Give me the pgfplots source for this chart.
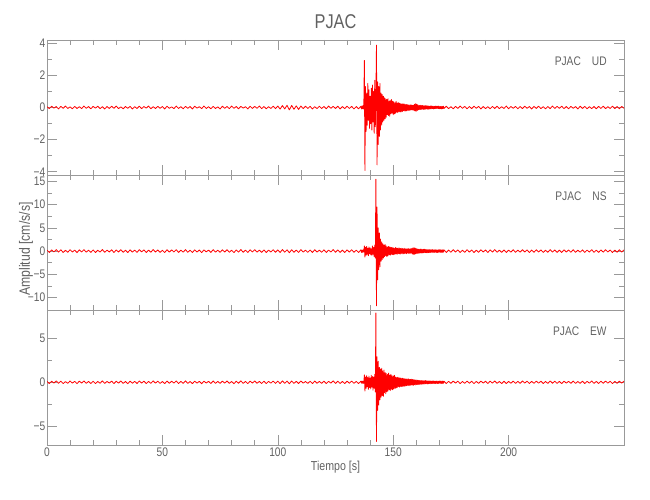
\documentclass[border=0pt]{standalone}
\usepackage{fontspec}
\setmainfont{Liberation Sans}[FakeStretch=0.82]
\usepackage{pgfplots}
\pgfplotsset{compat=1.18}

\definecolor{axgray}{gray}{0.6}
\definecolor{txgray}{gray}{0.38}

\pgfplotsset{
  seis/.style={
    scale only axis, width=577bp, height=135bp,
    xmin=0, xmax=250,
    xtick={0,50,100,150,200}, minor x tick num=4,
    minor y tick num=1,
    tick align=inside,
    major tick length=10bp, minor tick length=5bp,
    axis line style={axgray, line width=0.6pt},
    every tick/.style={axgray, line width=0.6pt},
    tick label style={txgray, font=\fontsize{12.5}{14}\selectfont},
    yticklabel style={inner sep=1.5bp},
    xticklabel style={inner sep=3bp},
  },
  trace/.style={red, line width=0.8pt, line join=round},
}

\begin{document}
\begin{tikzpicture}
\path[use as bounding box] (-47bp,-55bp) rectangle (603bp,445bp);

% ---------------- UD ----------------
\begin{axis}[seis, at={(0bp,270bp)}, anchor=south west,
  ymin=-4.2, ymax=4.2, ytick={-4,-2,0,2,4}, yticklabels={−4,−2,0,2,4},
  xticklabels={}]
\addplot[trace] coordinates {
(0,0.05) (1,-0.07) (2,0.08) (3,-0.04) (4,0.06) (5,-0.09) (6,0.07) (7,-0.05) (8,0.09) (9,-0.06)
(10,0.04) (11,-0.08) (12,0.07) (13,-0.06) (14,0.05) (15,-0.07) (16,0.09) (17,-0.05) (18,0.06) (19,-0.08)
(20,0.07) (21,-0.04) (22,0.08) (23,-0.07) (24,0.05) (25,-0.09) (26,0.06) (27,-0.06) (28,0.08) (29,-0.05)
(30,0.09) (31,-0.07) (32,0.04) (33,-0.08) (34,0.06) (35,-0.05) (36,0.07) (37,-0.09) (38,0.05) (39,-0.06)
(40,0.08) (41,-0.07) (42,0.06) (43,-0.04) (44,0.09) (45,-0.08) (46,0.05) (47,-0.06) (48,0.07) (49,-0.05)
(50,0.06) (51,-0.09) (52,0.08) (53,-0.05) (54,0.04) (55,-0.07) (56,0.09) (57,-0.06) (58,0.05) (59,-0.08)
(60,0.07) (61,-0.05) (62,0.06) (63,-0.09) (64,0.08) (65,-0.04) (66,0.05) (67,-0.07) (68,0.09) (69,-0.06)
(70,0.05) (71,-0.08) (72,0.07) (73,-0.06) (74,0.04) (75,-0.09) (76,0.08) (77,-0.05) (78,0.06) (79,-0.07)
(80,0.09) (81,-0.05) (82,0.06) (83,-0.08) (84,0.07) (85,-0.04) (86,0.05) (87,-0.09) (88,0.08) (89,-0.06)
(90,0.07) (91,-0.05) (92,0.09) (93,-0.07) (94,0.06) (95,-0.08) (96,0.05) (97,-0.06) (98,0.08) (99,-0.07)
(100,0.09) (101,-0.1) (102,0.12) (103,-0.09) (104,0.14) (105,-0.15) (106,0.13) (107,-0.11) (108,0.1) (109,-0.12)
(110,0.09) (111,-0.07) (112,0.08) (113,-0.06) (114,0.07) (115,-0.09) (116,0.05) (117,-0.07) (118,0.08) (119,-0.06)
(120,0.06) (121,-0.08) (122,0.09) (123,-0.05) (124,0.07) (125,-0.06) (126,0.08) (127,-0.09) (128,0.06) (129,-0.07)
(130,0.08) (131,-0.06) (132,0.07) (133,-0.09) (134,0.06) (135,-0.08) (136,0.07)
(136.25,-0.09) (136.5,0.1) (136.75,-0.08) (137,0.12) (137.25,-0.1)
(137.5,2.93) (137.75,-3.92) (138,1.3) (138.25,-1.5) (138.5,0.9) (138.75,-1.1)
(139,1.5) (139.25,-0.8) (139.5,1.1) (139.75,-1.3) (140,0.7) (140.25,-1.0) (140.5,1.2) (140.75,-1.4)
(141,1.4) (141.25,-0.9) (141.5,1.0) (141.75,-1.6) (142,1.7) (142.25,-1.2) (142.5,0.8) (142.75,3.88)
(143,-3.57) (143.25,1.6) (143.5,-2.3) (143.75,1.3) (144,-1.8) (144.25,1.5) (144.5,-1.4) (144.75,0.9)
(145,-1.1) (145.25,0.8) (145.5,-0.9) (145.75,0.7) (146,-0.8) (146.25,0.6) (146.5,-0.7) (146.75,0.55)
(147,-0.6) (147.25,0.5) (147.5,-0.45) (147.75,0.55) (148,-0.5) (148.25,0.4) (148.5,-0.55) (148.75,0.45)
(149,-0.4) (149.25,0.5) (149.5,-0.35) (149.75,0.4) (150,-0.45) (150.25,0.35) (150.5,-0.4) (150.75,0.3)
(151,-0.35) (151.25,0.38) (151.5,-0.3) (151.75,0.28) (152,-0.32) (152.25,0.3) (152.5,-0.25) (152.75,0.27)
(153,-0.28) (153.25,0.24) (153.5,-0.27) (153.75,0.22) (154,-0.25) (154.25,0.23) (154.5,-0.2) (154.75,0.22)
(155,-0.21) (155.25,0.19) (155.5,-0.22) (155.75,0.18) (156,-0.2) (156.25,0.17) (156.5,-0.18) (156.75,0.16)
(157,-0.17) (157.25,0.15) (157.5,-0.16) (157.75,0.17) (158,-0.15) (158.25,0.14) (158.5,-0.16) (158.75,0.15)
(159,-0.18) (159.25,0.2) (159.5,-0.22) (159.75,0.24) (160,-0.23) (160.25,0.2) (160.5,-0.18) (160.75,0.15)
(161,-0.14) (161.25,0.13) (161.5,-0.12) (161.75,0.14) (162,-0.13) (162.25,0.12) (162.5,-0.11) (162.75,0.13)
(163,-0.12) (163.25,0.1) (163.5,-0.11) (163.75,0.12) (164,-0.1) (164.25,0.11) (164.5,-0.09) (164.75,0.1)
(165,-0.11) (165.25,0.09) (165.5,-0.1) (165.75,0.08) (166,-0.09) (166.25,0.1) (166.5,-0.08) (166.75,0.09)
(167,-0.07) (167.25,0.08) (167.5,-0.09) (167.75,0.07) (168,-0.08) (168.25,0.09) (168.5,-0.07) (168.75,0.08)
(169,-0.06) (169.25,0.08) (169.5,-0.07) (169.75,0.09) (170,-0.08) (170.25,0.06) (170.5,-0.08) (170.75,0.07)
(171,-0.09) (171.25,0.06) (171.5,-0.07) (171.75,0.08) (172,-0.06)
(173,0.08) (174,-0.07) (175,0.05) (176,-0.08) (177,0.07) (178,-0.06) (179,0.09) (180,-0.05) (181,0.07)
(182,-0.08) (183,0.06) (184,-0.07) (185,0.08) (186,-0.05) (187,0.07) (188,-0.09) (189,0.06) (190,-0.07) (191,0.05)
(192,-0.08) (193,0.07) (194,-0.06) (195,0.08) (196,-0.07) (197,0.05) (198,-0.06) (199,0.09) (200,-0.08) (201,0.06)
(202,-0.05) (203,0.07) (204,-0.08) (205,0.06) (206,-0.07) (207,0.08) (208,-0.05) (209,0.06) (210,-0.09) (211,0.07)
(212,-0.06) (213,0.08) (214,-0.07) (215,0.05) (216,-0.08) (217,0.06) (218,-0.07) (219,0.09) (220,-0.06) (221,0.07)
(222,-0.05) (223,0.08) (224,-0.07) (225,0.06) (226,-0.08) (227,0.07) (228,-0.05) (229,0.06) (230,-0.09) (231,0.08)
(232,-0.06) (233,0.07) (234,-0.08) (235,0.05) (236,-0.07) (237,0.06) (238,-0.08) (239,0.07) (240,-0.06) (241,0.08)
(242,-0.07) (243,0.05) (244,-0.06) (245,0.08) (246,-0.07) (247,0.06) (248,-0.08) (249,0.07) (250,-0.05)
};
\node[anchor=east, txgray, font=\fontsize{12.5}{14}\selectfont] at (rel axis cs:0.976,0.845) {PJAC\hspace{11bp}UD};
\end{axis}

% ---------------- NS ----------------
\begin{axis}[seis, at={(0bp,135bp)}, anchor=south west,
  ymin=-12.7, ymax=16.4, ytick={-10,-5,0,5,10,15}, yticklabels={−10,−5,0,5,10,15},
  xticklabels={}]
\addplot[trace] coordinates {
(0,0.2) (1,-0.3) (2,0.25) (3,-0.18) (4,0.32) (5,-0.22) (6,0.28) (7,-0.3) (8,0.17) (9,-0.25)
(10,0.3) (11,-0.2) (12,0.22) (13,-0.33) (14,0.26) (15,-0.19) (16,0.31) (17,-0.24) (18,0.2) (19,-0.28)
(20,0.25) (21,-0.3) (22,0.18) (23,-0.22) (24,0.33) (25,-0.27) (26,0.21) (27,-0.19) (28,0.29) (29,-0.31)
(30,0.24) (31,-0.2) (32,0.3) (33,-0.26) (34,0.19) (35,-0.32) (36,0.27) (37,-0.23) (38,0.22) (39,-0.29)
(40,0.31) (41,-0.18) (42,0.26) (43,-0.3) (44,0.21) (45,-0.25) (46,0.33) (47,-0.2) (48,0.24) (49,-0.27)
(50,0.18) (51,-0.31) (52,0.29) (53,-0.22) (54,0.25) (55,-0.19) (56,0.3) (57,-0.28) (58,0.2) (59,-0.24)
(60,0.32) (61,-0.26) (62,0.19) (63,-0.3) (64,0.27) (65,-0.21) (66,0.23) (67,-0.33) (68,0.26) (69,-0.18)
(70,0.22) (71,-0.29) (72,0.31) (73,-0.24) (74,0.2) (75,-0.27) (76,0.28) (77,-0.2) (78,0.3) (79,-0.25)
(80,0.19) (81,-0.32) (82,0.24) (83,-0.22) (84,0.33) (85,-0.26) (86,0.21) (87,-0.3) (88,0.27) (89,-0.19)
(90,0.3) (91,-0.23) (92,0.2) (93,-0.28) (94,0.25) (95,-0.31) (96,0.22) (97,-0.2) (98,0.29) (99,-0.27)
(100,0.26) (101,-0.3) (102,0.33) (103,-0.24) (104,0.28) (105,-0.35) (106,0.3) (107,-0.26) (108,0.22) (109,-0.29)
(110,0.31) (111,-0.21) (112,0.19) (113,-0.27) (114,0.24) (115,-0.3) (116,0.28) (117,-0.22) (118,0.2) (119,-0.25)
(120,0.27) (121,-0.3) (122,0.22) (123,-0.19) (124,0.32) (125,-0.26) (126,0.25) (127,-0.28) (128,0.21) (129,-0.31)
(130,0.26) (131,-0.22) (132,0.29) (133,-0.25) (134,0.2) (135,-0.3) (136,0.27)
(136.25,-0.3) (136.5,0.2) (136.75,-0.28) (137,0.3) (137.25,-0.22)
(137.5,1.1) (137.75,-1.3) (138,0.8) (138.25,-0.9) (138.5,1.0) (138.75,-0.7)
(139,0.6) (139.25,-1.0) (139.5,0.9) (139.75,-0.6) (140,0.7) (140.25,-0.8) (140.5,0.5) (140.75,-0.9)
(141,1.1) (141.25,-0.7) (141.5,0.8) (141.75,-1.2) (142,1.3) (142.25,-1.5) (142.5,15.5) (142.75,-11.8)
(143,9.5) (143.25,-6.2) (143.5,5.0) (143.75,-4.0) (144,3.9) (144.25,-3.4) (144.5,2.6) (144.75,-2.2)
(145,2.0) (145.25,-1.8) (145.5,1.6) (145.75,-1.5) (146,1.3) (146.25,-1.2) (146.5,1.4) (146.75,-1.0)
(147,1.1) (147.25,-1.2) (147.5,0.9) (147.75,-1.0) (148,1.0) (148.25,-0.8) (148.5,0.9) (148.75,-0.9)
(149,0.8) (149.25,-0.7) (149.5,0.8) (149.75,-0.75) (150,0.7) (150.25,-0.8) (150.5,0.6) (150.75,-0.7)
(151,0.75) (151.25,-0.6) (151.5,0.65) (151.75,-0.7) (152,0.6) (152.25,-0.55) (152.5,0.7) (152.75,-0.6)
(153,0.55) (153.25,-0.65) (153.5,0.6) (153.75,-0.5) (154,0.55) (154.25,-0.6) (154.5,0.5) (154.75,-0.55)
(155,0.6) (155.25,-0.5) (155.5,0.45) (155.75,-0.55) (156,0.5) (156.25,-0.45) (156.5,0.55) (156.75,-0.5)
(157,0.45) (157.25,-0.5) (157.5,0.5) (157.75,-0.45) (158,0.55) (158.25,-0.6) (158.5,0.65) (158.75,-0.7)
(159,0.75) (159.25,-0.7) (159.5,0.65) (159.75,-0.6) (160,0.55) (160.25,-0.5) (160.5,0.45) (160.75,-0.5)
(161,0.4) (161.25,-0.45) (161.5,0.4) (161.75,-0.4) (162,0.45) (162.25,-0.4) (162.5,0.35) (162.75,-0.4)
(163,0.38) (163.25,-0.35) (163.5,0.4) (163.75,-0.33) (164,0.35) (164.25,-0.38) (164.5,0.32) (164.75,-0.35)
(165,0.3) (165.25,-0.34) (165.5,0.33) (165.75,-0.3) (166,0.28) (166.25,-0.32) (166.5,0.3) (166.75,-0.27)
(167,0.31) (167.25,-0.29) (167.5,0.26) (167.75,-0.3) (168,0.28) (168.25,-0.25) (168.5,0.3) (168.75,-0.28)
(169,0.24) (169.25,-0.3) (169.5,0.27) (169.75,-0.26) (170,0.29) (170.25,-0.24) (170.5,0.26) (170.75,-0.3)
(171,0.25) (171.25,-0.28) (171.5,0.3) (171.75,-0.23) (172,0.27)
(173,-0.3) (174,0.22) (175,-0.26) (176,0.31) (177,-0.2) (178,0.25) (179,-0.29) (180,0.18) (181,-0.27)
(182,0.3) (183,-0.22) (184,0.24) (185,-0.31) (186,0.2) (187,-0.26) (188,0.28) (189,-0.19) (190,0.23) (191,-0.3)
(192,0.26) (193,-0.21) (194,0.32) (195,-0.25) (196,0.19) (197,-0.28) (198,0.24) (199,-0.3) (200,0.21) (201,-0.23)
(202,0.29) (203,-0.27) (204,0.2) (205,-0.24) (206,0.3) (207,-0.19) (208,0.26) (209,-0.31) (210,0.22) (211,-0.25)
(212,0.28) (213,-0.2) (214,0.25) (215,-0.29) (216,0.19) (217,-0.26) (218,0.31) (219,-0.22) (220,0.24) (221,-0.28)
(222,0.21) (223,-0.3) (224,0.27) (225,-0.2) (226,0.23) (227,-0.25) (228,0.3) (229,-0.27) (230,0.19) (231,-0.24)
(232,0.26) (233,-0.29) (234,0.22) (235,-0.21) (236,0.3) (237,-0.26) (238,0.2) (239,-0.28) (240,0.25) (241,-0.23)
(242,0.29) (243,-0.2) (244,0.24) (245,-0.3) (246,0.22) (247,-0.25) (248,0.27) (249,-0.21) (250,0.26)
};
\node[anchor=east, txgray, font=\fontsize{12.5}{14}\selectfont] at (rel axis cs:0.976,0.845) {PJAC\hspace{11bp}NS};
\end{axis}

% ---------------- EW ----------------
\begin{axis}[seis, at={(0bp,0bp)}, anchor=south west,
  ymin=-7.15, ymax=8.24, ytick={-5,0,5}, yticklabels={−5,0,5},
  xticklabels={0,50,100,150,200}]
\addplot[trace] coordinates {
(0,0.1) (1,-0.14) (2,0.12) (3,-0.09) (4,0.16) (5,-0.11) (6,0.13) (7,-0.15) (8,0.08) (9,-0.12)
(10,0.15) (11,-0.1) (12,0.11) (13,-0.16) (14,0.13) (15,-0.09) (16,0.15) (17,-0.12) (18,0.1) (19,-0.14)
(20,0.12) (21,-0.15) (22,0.09) (23,-0.11) (24,0.16) (25,-0.13) (26,0.1) (27,-0.09) (28,0.14) (29,-0.15)
(30,0.12) (31,-0.1) (32,0.15) (33,-0.13) (34,0.09) (35,-0.16) (36,0.13) (37,-0.11) (38,0.11) (39,-0.14)
(40,0.15) (41,-0.09) (42,0.13) (43,-0.15) (44,0.1) (45,-0.12) (46,0.16) (47,-0.1) (48,0.12) (49,-0.13)
(50,0.09) (51,-0.15) (52,0.14) (53,-0.11) (54,0.12) (55,-0.09) (56,0.15) (57,-0.14) (58,0.1) (59,-0.12)
(60,0.16) (61,-0.13) (62,0.09) (63,-0.15) (64,0.13) (65,-0.1) (66,0.11) (67,-0.16) (68,0.13) (69,-0.09)
(70,0.11) (71,-0.14) (72,0.15) (73,-0.12) (74,0.1) (75,-0.13) (76,0.14) (77,-0.1) (78,0.15) (79,-0.12)
(80,0.09) (81,-0.16) (82,0.12) (83,-0.11) (84,0.16) (85,-0.13) (86,0.1) (87,-0.15) (88,0.13) (89,-0.09)
(90,0.15) (91,-0.11) (92,0.1) (93,-0.14) (94,0.12) (95,-0.15) (96,0.11) (97,-0.1) (98,0.14) (99,-0.13)
(100,0.13) (101,-0.15) (102,0.16) (103,-0.12) (104,0.14) (105,-0.17) (106,0.15) (107,-0.13) (108,0.11) (109,-0.14)
(110,0.15) (111,-0.1) (112,0.09) (113,-0.13) (114,0.12) (115,-0.15) (116,0.14) (117,-0.11) (118,0.1) (119,-0.12)
(120,0.13) (121,-0.15) (122,0.11) (123,-0.09) (124,0.16) (125,-0.13) (126,0.12) (127,-0.14) (128,0.1) (129,-0.15)
(130,0.13) (131,-0.11) (132,0.14) (133,-0.12) (134,0.1) (135,-0.15) (136,0.13)
(136.25,-0.1) (136.5,0.15) (136.75,-0.12) (137,0.11) (137.25,-0.14)
(137.5,0.85) (137.75,-1.0) (138,0.6) (138.25,-0.7) (138.5,0.75) (138.75,-0.5)
(139,0.55) (139.25,-0.8) (139.5,0.7) (139.75,-0.6) (140,0.5) (140.25,-0.75) (140.5,0.8) (140.75,-0.55)
(141,0.65) (141.25,-0.9) (141.5,0.6) (141.75,-0.7) (142,0.9) (142.25,-1.1) (142.5,7.9) (142.75,-6.75)
(143,2.9) (143.25,-3.2) (143.5,2.4) (143.75,-2.6) (144,1.7) (144.25,-2.0) (144.5,1.5) (144.75,-1.7)
(145,1.6) (145.25,-1.5) (145.5,1.3) (145.75,-1.6) (146,1.4) (146.25,-1.2) (146.5,1.1) (146.75,-1.3)
(147,1.0) (147.25,-1.1) (147.5,0.9) (147.75,-1.0) (148,1.05) (148.25,-0.85) (148.5,0.8) (148.75,-0.95)
(149,0.9) (149.25,-0.8) (149.5,0.75) (149.75,-0.85) (150,0.7) (150.25,-0.75) (150.5,0.8) (150.75,-0.7)
(151,0.6) (151.25,-0.65) (151.5,0.55) (151.75,-0.6) (152,0.58) (152.25,-0.5) (152.5,0.52) (152.75,-0.55)
(153,0.5) (153.25,-0.48) (153.5,0.45) (153.75,-0.5) (154,0.47) (154.25,-0.44) (154.5,0.42) (154.75,-0.46)
(155,0.4) (155.25,-0.42) (155.5,0.38) (155.75,-0.4) (156,0.37) (156.25,-0.35) (156.5,0.4) (156.75,-0.36)
(157,0.34) (157.25,-0.38) (157.5,0.33) (157.75,-0.32) (158,0.35) (158.25,-0.3) (158.5,0.32) (158.75,-0.34)
(159,0.3) (159.25,-0.28) (159.5,0.27) (159.75,-0.3) (160,0.26) (160.25,-0.25) (160.5,0.24) (160.75,-0.26)
(161,0.22) (161.25,-0.24) (161.5,0.21) (161.75,-0.22) (162,0.2) (162.25,-0.21) (162.5,0.19) (162.75,-0.2)
(163,0.18) (163.25,-0.2) (163.5,0.17) (163.75,-0.18) (164,0.19) (164.25,-0.16) (164.5,0.17) (164.75,-0.18)
(165,0.15) (165.25,-0.17) (165.5,0.16) (165.75,-0.14) (166,0.15) (166.25,-0.16) (166.5,0.13) (166.75,-0.15)
(167,0.14) (167.25,-0.13) (167.5,0.15) (167.75,-0.14) (168,0.12) (168.25,-0.15) (168.5,0.14) (168.75,-0.12)
(169,0.13) (169.25,-0.14) (169.5,0.11) (169.75,-0.13) (170,0.14) (170.25,-0.12) (170.5,0.13) (170.75,-0.15)
(171,0.12) (171.25,-0.13) (171.5,0.14) (171.75,-0.11) (172,0.13)
(173,-0.15) (174,0.11) (175,-0.12) (176,0.14) (177,-0.1) (178,0.13) (179,-0.15) (180,0.09) (181,-0.12)
(182,0.14) (183,-0.11) (184,0.12) (185,-0.15) (186,0.1) (187,-0.13) (188,0.14) (189,-0.09) (190,0.12) (191,-0.14)
(192,0.13) (193,-0.1) (194,0.15) (195,-0.12) (196,0.09) (197,-0.14) (198,0.12) (199,-0.15) (200,0.1) (201,-0.11)
(202,0.14) (203,-0.13) (204,0.1) (205,-0.12) (206,0.15) (207,-0.09) (208,0.13) (209,-0.14) (210,0.11) (211,-0.12)
(212,0.13) (213,-0.1) (214,0.12) (215,-0.14) (216,0.09) (217,-0.13) (218,0.15) (219,-0.11) (220,0.12) (221,-0.13)
(222,0.1) (223,-0.15) (224,0.13) (225,-0.1) (226,0.11) (227,-0.12) (228,0.14) (229,-0.13) (230,0.09) (231,-0.12)
(232,0.13) (233,-0.14) (234,0.11) (235,-0.1) (236,0.15) (237,-0.13) (238,0.1) (239,-0.14) (240,0.12) (241,-0.11)
(242,0.14) (243,-0.1) (244,0.12) (245,-0.15) (246,0.11) (247,-0.12) (248,0.13) (249,-0.1) (250,0.13)
};
\node[anchor=east, txgray, font=\fontsize{12.5}{14}\selectfont] at (rel axis cs:0.976,0.845) {PJAC\hspace{11bp}EW};
\end{axis}

% titles and axis labels
\node[txgray, font=\fontsize{20}{22}\selectfont] at (288.5bp,423bp) {PJAC};
\node[txgray, font=\fontsize{15}{17}\selectfont, rotate=90, inner sep=0pt] at (-21bp,196bp) {Amplitud [cm/s/s]};
\node[txgray, font=\fontsize{13}{15}\selectfont] at (288.5bp,-22bp) {Tiempo [s]};
\end{tikzpicture}
\end{document}
